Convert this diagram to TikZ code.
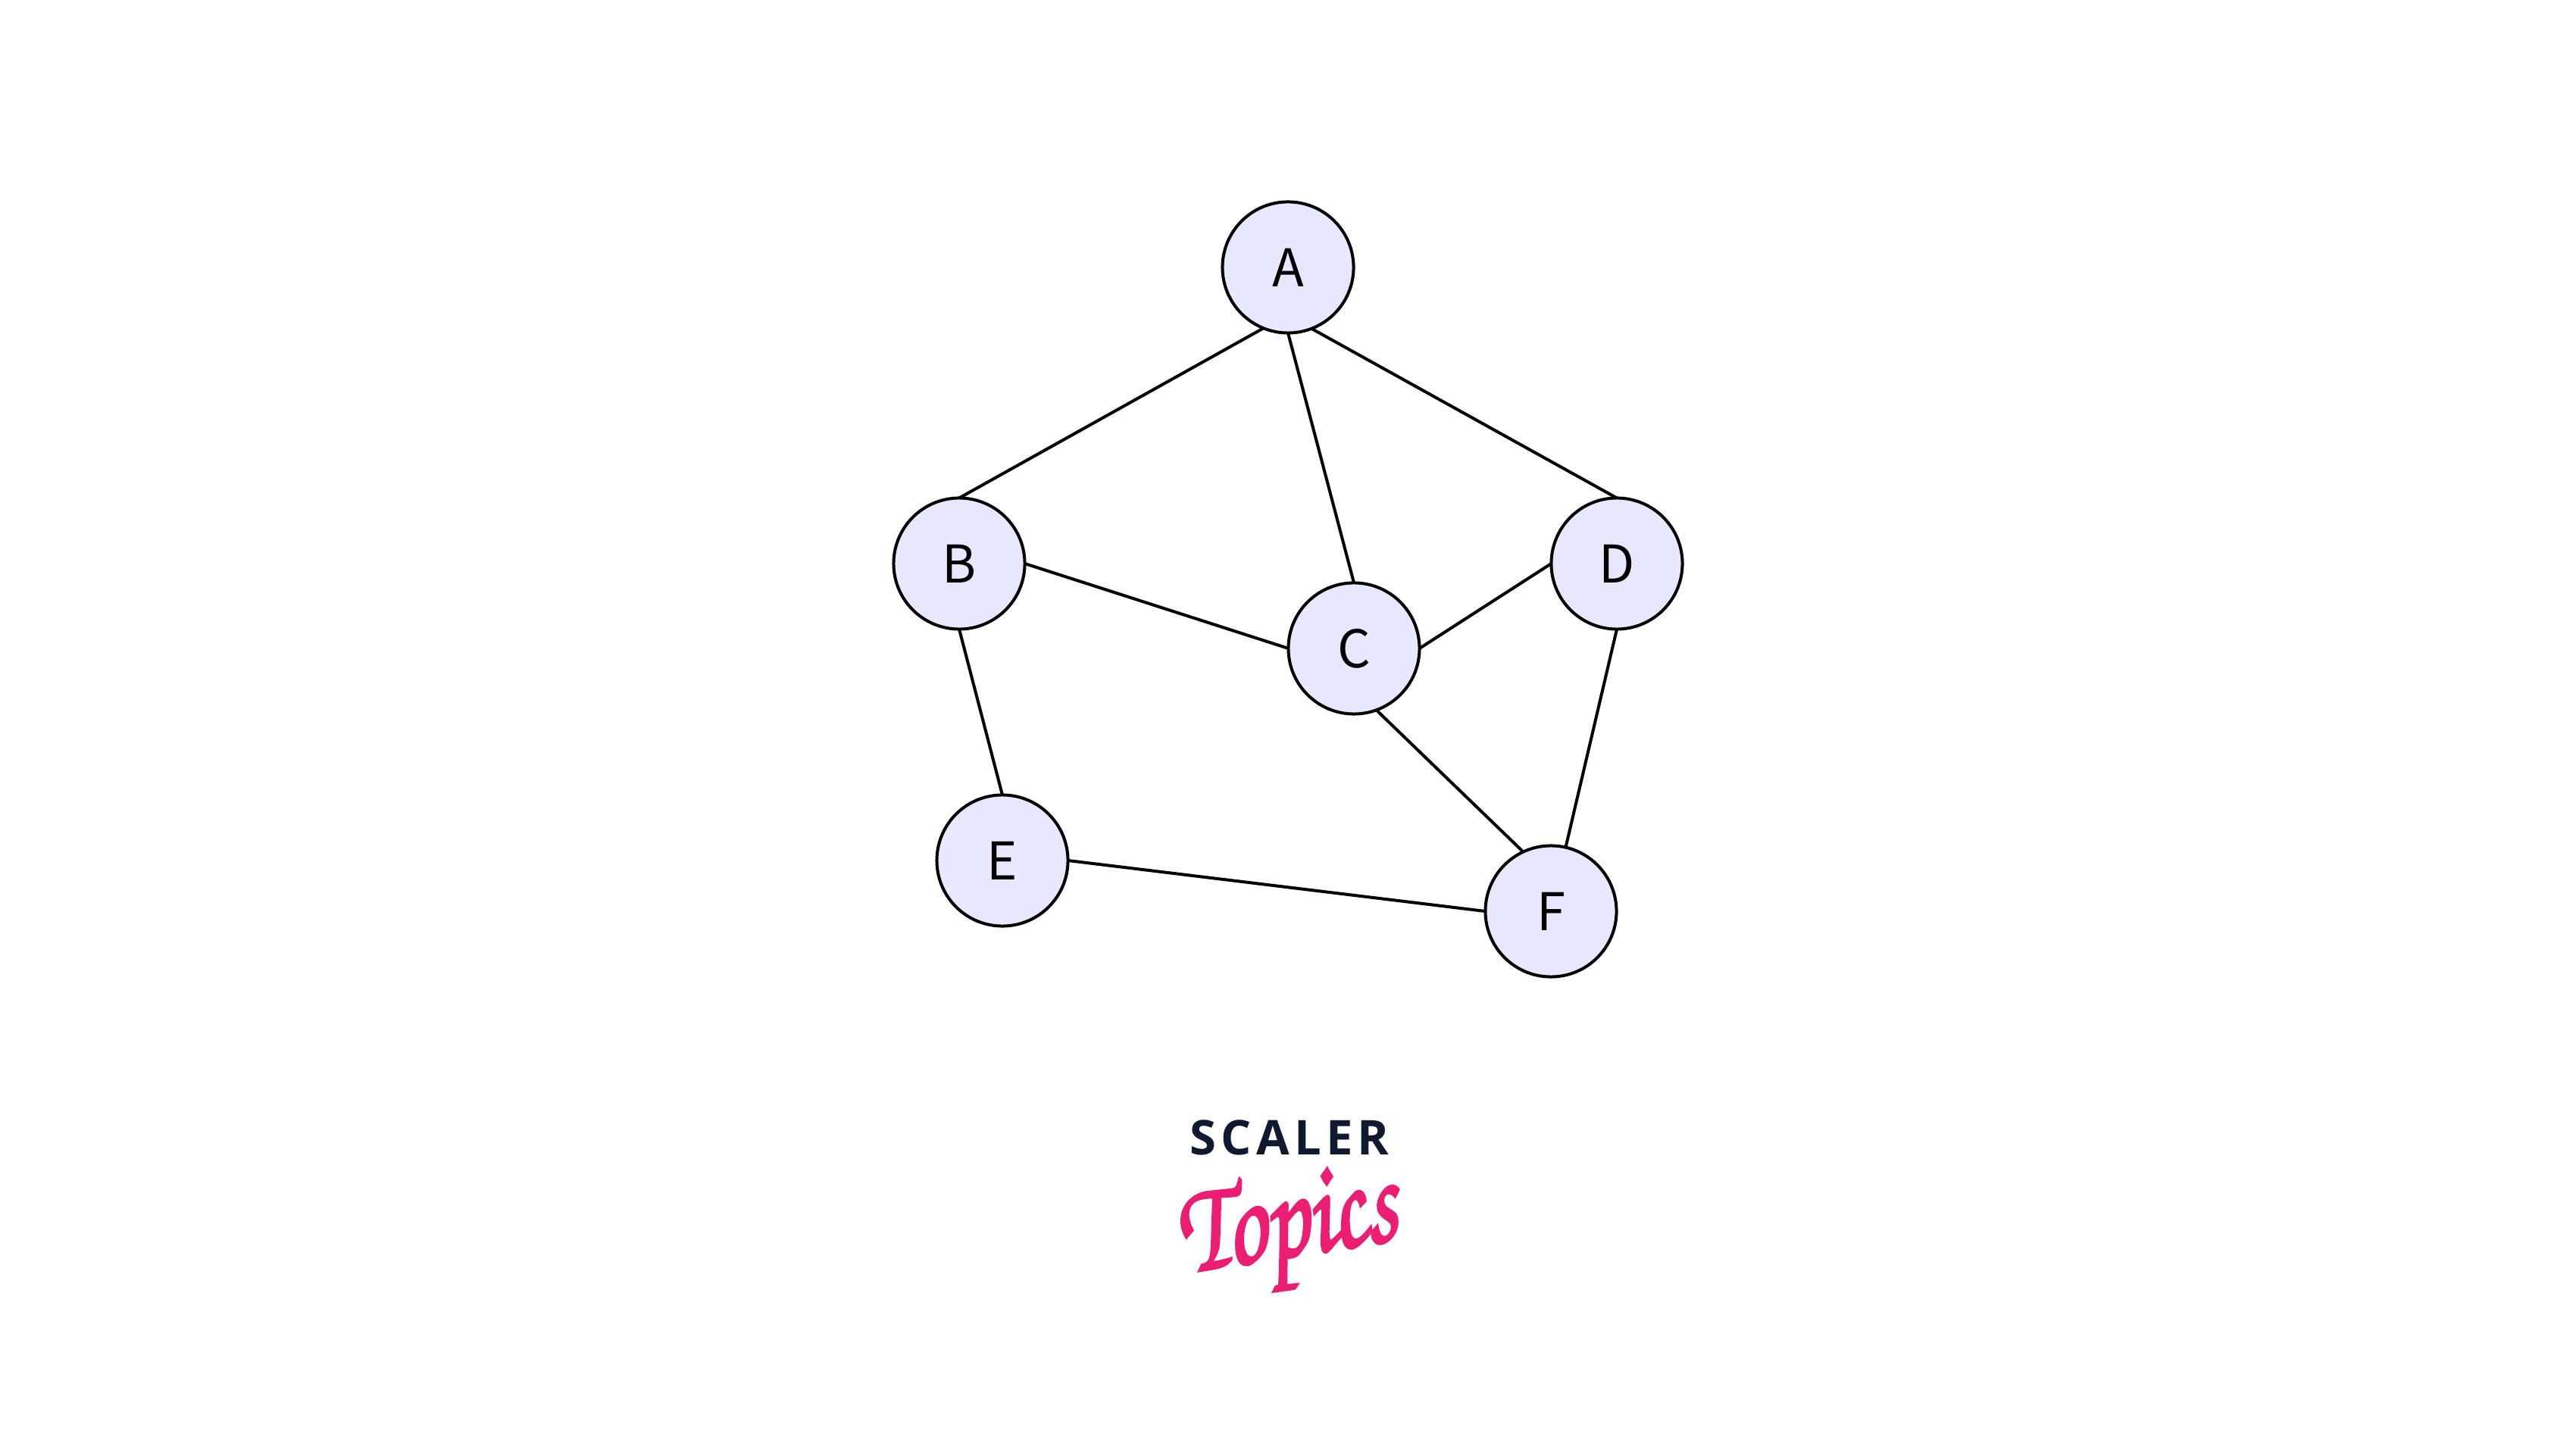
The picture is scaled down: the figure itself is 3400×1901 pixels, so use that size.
\documentclass[tikz,border=0pt]{standalone}
\usepackage{fontspec}
\usepackage{tikz}
\setmainfont{Noto Sans CJK SC}
\newfontfamily\brandfont[LetterSpace=10]{Open Sans}
\newfontfamily\logofont[FakeBold=2.2]{TeX Gyre Chorus}
\definecolor{nodefill}{HTML}{E7E7FD}
\definecolor{brandnavy}{HTML}{0F1A30}
\definecolor{brandpink}{HTML}{EC1E73}

\begin{document}
\begin{tikzpicture}
[x=0.01cm,y=-0.01cm,%%%%%%%%%%%%%%%%%%%%%%%%%%%%%%
vertex/.style={circle,draw=black,fill=nodefill,line width=0.04cm,minimum size=1.73cm,inner sep=0pt,outer sep=0pt,text height=0.5cm,text depth=0pt,font=\fontsize{19.5}{20}\selectfont},
edge/.style={draw=black,line width=0.04cm},
]%%%%%%%%%%%%%%%%%%%%%%%%%%%%%%
\useasboundingbox (0,0) rectangle (3400,1901);

\foreach \name/\x/\y in {A/1700/353,B/1266/744,C/1787/856,D/2134/744,E/1323/1136,F/2047/1203}{
\node[vertex] (\name) at (\x,\y){\name};
}

\foreach \from/\to in {A.248/B.north,A.south/C.north,A.291/D.north,B.east/C.west,B.south/E.north,C.east/D.west,C.-70/F.115,D.south/F.77,E.east/F.west}{
\draw[edge] (\from) -- (\to);
}

\node[text=brandnavy,font=\brandfont\bfseries\fontsize{18}{18}\selectfont,inner sep=0pt] (scaler) at (1702,1502){SCALER};
\node[text=brandpink,font=\logofont\fontsize{49}{49}\selectfont,inner sep=0pt,rotate=9,xscale=0.76,transform shape] (topics) at (1700,1624){Topics};
\end{tikzpicture}
\end{document}
